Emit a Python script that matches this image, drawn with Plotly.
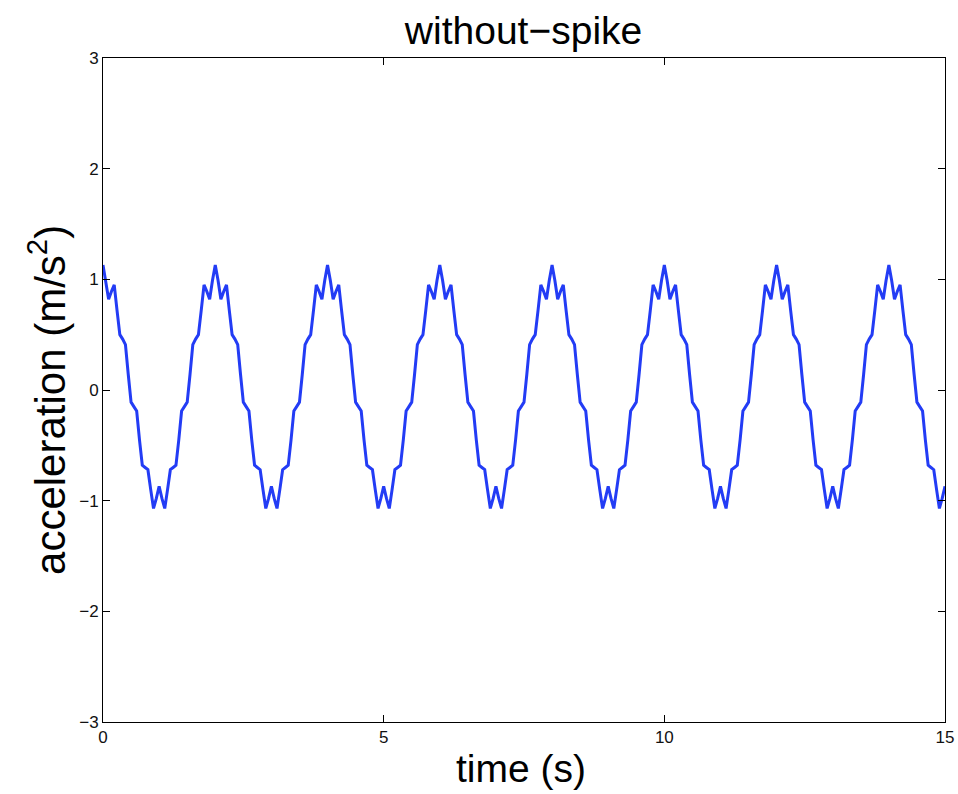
import plotly.graph_objects as go

# sampling step of the recorded signal (s)
dt = 0.05

# acceleration samples (m/s^2), every 0.05 s from t = 0 to t = 15
accel = [
    1.13, 0.99, 0.82, 0.89, 0.95, 0.72, 0.50, 0.46, 0.41, 0.14, -0.11, -0.15, -0.19, -0.45, -0.68, -0.70, -0.72, -0.90, -1.07, -0.98,
    -0.87, -0.98, -1.07, -0.90, -0.72, -0.70, -0.68, -0.45, -0.19, -0.15, -0.11, 0.14, 0.41, 0.46, 0.50, 0.72, 0.95, 0.89, 0.82, 0.99,
    1.13, 0.99, 0.82, 0.89, 0.95, 0.72, 0.50, 0.46, 0.41, 0.14, -0.11, -0.15, -0.19, -0.45, -0.68, -0.70, -0.72, -0.90, -1.07, -0.98,
    -0.87, -0.98, -1.07, -0.90, -0.72, -0.70, -0.68, -0.45, -0.19, -0.15, -0.11, 0.14, 0.41, 0.46, 0.50, 0.72, 0.95, 0.89, 0.82, 0.99,
    1.13, 0.99, 0.82, 0.89, 0.95, 0.72, 0.50, 0.46, 0.41, 0.14, -0.11, -0.15, -0.19, -0.45, -0.68, -0.70, -0.72, -0.90, -1.07, -0.98,
    -0.87, -0.98, -1.07, -0.90, -0.72, -0.70, -0.68, -0.45, -0.19, -0.15, -0.11, 0.14, 0.41, 0.46, 0.50, 0.72, 0.95, 0.89, 0.82, 0.99,
    1.13, 0.99, 0.82, 0.89, 0.95, 0.72, 0.50, 0.46, 0.41, 0.14, -0.11, -0.15, -0.19, -0.45, -0.68, -0.70, -0.72, -0.90, -1.07, -0.98,
    -0.87, -0.98, -1.07, -0.90, -0.72, -0.70, -0.68, -0.45, -0.19, -0.15, -0.11, 0.14, 0.41, 0.46, 0.50, 0.72, 0.95, 0.89, 0.82, 0.99,
    1.13, 0.99, 0.82, 0.89, 0.95, 0.72, 0.50, 0.46, 0.41, 0.14, -0.11, -0.15, -0.19, -0.45, -0.68, -0.70, -0.72, -0.90, -1.07, -0.98,
    -0.87, -0.98, -1.07, -0.90, -0.72, -0.70, -0.68, -0.45, -0.19, -0.15, -0.11, 0.14, 0.41, 0.46, 0.50, 0.72, 0.95, 0.89, 0.82, 0.99,
    1.13, 0.99, 0.82, 0.89, 0.95, 0.72, 0.50, 0.46, 0.41, 0.14, -0.11, -0.15, -0.19, -0.45, -0.68, -0.70, -0.72, -0.90, -1.07, -0.98,
    -0.87, -0.98, -1.07, -0.90, -0.72, -0.70, -0.68, -0.45, -0.19, -0.15, -0.11, 0.14, 0.41, 0.46, 0.50, 0.72, 0.95, 0.89, 0.82, 0.99,
    1.13, 0.99, 0.82, 0.89, 0.95, 0.72, 0.50, 0.46, 0.41, 0.14, -0.11, -0.15, -0.19, -0.45, -0.68, -0.70, -0.72, -0.90, -1.07, -0.98,
    -0.87, -0.98, -1.07, -0.90, -0.72, -0.70, -0.68, -0.45, -0.19, -0.15, -0.11, 0.14, 0.41, 0.46, 0.50, 0.72, 0.95, 0.89, 0.82, 0.99,
    1.13, 0.99, 0.82, 0.89, 0.95, 0.72, 0.50, 0.46, 0.41, 0.14, -0.11, -0.15, -0.19, -0.45, -0.68, -0.70, -0.72, -0.90, -1.07, -0.98,
    -0.87,
]
time = [round(i * dt, 2) for i in range(len(accel))]

x_ticks = [0, 5, 10, 15]
y_ticks = [-3, -2, -1, 0, 1, 2, 3]

title_text = "without\u2212spike"
x_label = "time (s)"
y_label = "acceleration (m/s<sup>2</sup>)"

FONT = "Liberation Sans, Arial, Helvetica, sans-serif"

fig = go.Figure()
fig.add_trace(go.Scatter(
    x=time, y=accel, mode="lines",
    line=dict(color="rgb(35,60,245)", width=3),
    showlegend=False, hoverinfo="skip",
))

axis_common = dict(
    showgrid=False, zeroline=False, automargin=False,
    showline=True, linecolor="black", linewidth=1, mirror="ticks",
    ticks="inside", ticklen=7, tickwidth=1, tickcolor="black",
    tickfont=dict(family=FONT, size=17, color="#111"),
)

fig.update_xaxes(range=[0, 15], tickvals=x_ticks, **axis_common)
fig.update_yaxes(range=[-3, 3], tickvals=y_ticks, **axis_common)

fig.update_layout(
    width=958, height=794,
    margin=dict(l=103, r=13, t=58, b=72),
    paper_bgcolor="white", plot_bgcolor="white",
    title=dict(text=title_text, x=0.5465, xanchor="center", y=1 - 30 / 794, yanchor="middle",
               yref="container", font=dict(family=FONT, size=39, color="black")),
    annotations=[
        dict(text=x_label, x=0.4964, xref="paper", y=-0.07, yref="paper",
             xanchor="center", yanchor="middle", showarrow=False,
             font=dict(family=FONT, size=39, color="black")),
        dict(text=y_label, x=-0.0665, xref="paper", y=0.485, yref="paper",
             xanchor="center", yanchor="middle", showarrow=False, textangle=-90,
             font=dict(family=FONT, size=42, color="black")),
    ],
)

fig.write_html("out.html")
